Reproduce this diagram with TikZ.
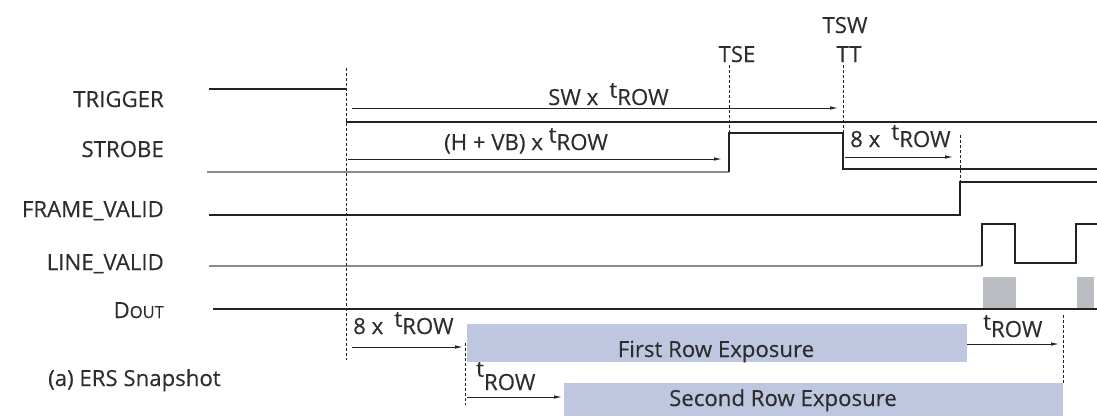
\documentclass[tikz,border=0pt]{standalone}
\usepackage{fontspec}
\setmainfont{Open Sans}[FakeBold=0.25]
\usetikzlibrary{arrows.meta}
\definecolor{boxblue}{RGB}{191,199,224}
\definecolor{blockgray}{RGB}{186,190,194}
\definecolor{sig}{RGB}{35,35,35}
\definecolor{txt}{RGB}{45,45,45}
\definecolor{lowgray}{RGB}{140,140,140}
\newcommand{\trow}{\raisebox{0.33em}{t}ROW}
\newcommand{\trowsub}{\raisebox{0.6em}{t}ROW}
\begin{document}
\begin{tikzpicture}[x=1pt,y=-1pt,
  wave/.style={draw=sig, line width=1.3pt},
  lowwave/.style={draw=lowgray, line width=1.3pt},
  guide/.style={draw=sig, line width=0.9pt, dash pattern=on 3pt off 2pt},
  dim/.style={draw=sig, line width=0.9pt, -{Latex[length=8pt,width=3.5pt]}},
  lbl/.style={font=\fontsize{22.2}{23}\selectfont, text=txt, inner sep=0pt},
  expbox/.style={fill=boxblue, inner sep=0pt, anchor=north west},
  datablk/.style={fill=blockgray, inner sep=0pt, anchor=north west}]
\useasboundingbox (0,0) rectangle (1097,416);
% exposure boxes
\node[expbox, minimum width=500pt, minimum height=38pt] (first) at (467,324) {};
\node[expbox, minimum width=499pt, minimum height=33pt] (second) at (564,383) {};
\node[lbl, anchor=base] (firsttxt) at (716,357) {First Row Exposure};
\node[lbl, anchor=base] (secondtxt) at (783,406) {Second Row Exposure};
% data blocks
\node[datablk, minimum width=33pt, minimum height=31pt] (d1) at (983,277) {};
\node[datablk, minimum width=17pt, minimum height=31pt] (d2) at (1077,277) {};
% signal labels
\node[lbl, anchor=base east] (trig) at (164,107) {TRIGGER};
\node[lbl, anchor=base east] (strb) at (164,157) {STROBE};
\node[lbl, anchor=base east] (fv) at (164,217) {FRAME\_VALID};
\node[lbl, anchor=base east] (lv) at (164,270) {LINE\_VALID};
\node[lbl, anchor=base east] (dout) at (164,318) {D{\fontsize{16.5}{17}\selectfont OUT}};
\node[lbl, anchor=base west] (caption) at (48,386) {(a) ERS Snapshot};
% event labels
\node[lbl, anchor=base] (tse) at (737,62) {TSE};
\node[lbl, anchor=base] (tsw) at (845,33) {TSW};
\node[lbl, anchor=base] (tt) at (849,62) {TT};
% coordinates
\coordinate (g0a) at (346,68);  \coordinate (g0b) at (346,360);
\coordinate (g1a) at (729,65);  \coordinate (g1b) at (729,133);
\coordinate (g2a) at (843,65);  \coordinate (g2b) at (843,133);
\coordinate (g3a) at (960,135); \coordinate (g3b) at (960,182);
\coordinate (g4a) at (465,343); \coordinate (g4b) at (465,405);
\coordinate (g5a) at (1063,315); \coordinate (g5b) at (1063,383);
% waveforms
\draw[wave] (209,89) -- (346,89);
\draw[wave] (346,122) -- (1097,122);
\draw[lowwave] (207,172) -- (729,172);
\draw[wave] (729,172) -- (g1b) -- (g2b) -- (843,169) -- (1097,169);
\draw[wave] (209,215) -- (960,215) -- (g3b) -- (1097,182);
\draw[lowwave] (209,266) -- (982,266);
\draw[wave] (982,266) -- (982,224) -- (1015,224) -- (1015,263) -- (1076,263) -- (1076,224) -- (1097,224);
\draw[wave] (213,309) -- (1097,309);
% guides
\draw[guide] (g0a) -- (g0b);
\draw[guide] (g1a) -- (g1b);
\draw[guide] (g2a) -- (g2b);
\draw[guide] (g3a) -- (g3b);
\draw[guide] (g4a) -- (g4b);
\draw[guide] (g5a) -- (g5b);
% dimension arrows
\draw[dim] (352,108) -- (838,108);
\draw[dim] (348,159) -- (722,159);
\draw[dim] (845,157) -- (953,157);
\draw[dim] (352,347) -- (463,347);
\draw[dim] (467,397) -- (562,397);
\draw[dim] (967,344) -- (1059,344);
% dimension labels
\node[lbl, anchor=base west] (swl) at (548,105) {SW x\enspace\trow};
\node[lbl, anchor=base west] (hvbl) at (444,150) {(H + VB) x \trow};
\node[lbl, anchor=base west] (s8l) at (850,147) {8 x\enspace\trow};
\node[lbl, anchor=base west] (b8l) at (353,334) {8 x\enspace\trow};
\node[lbl, anchor=base west] (brl) at (476,390) {\trowsub};
\node[lbl, anchor=base west] (rrl) at (983,337) {\trow};
\end{tikzpicture}
\end{document}
